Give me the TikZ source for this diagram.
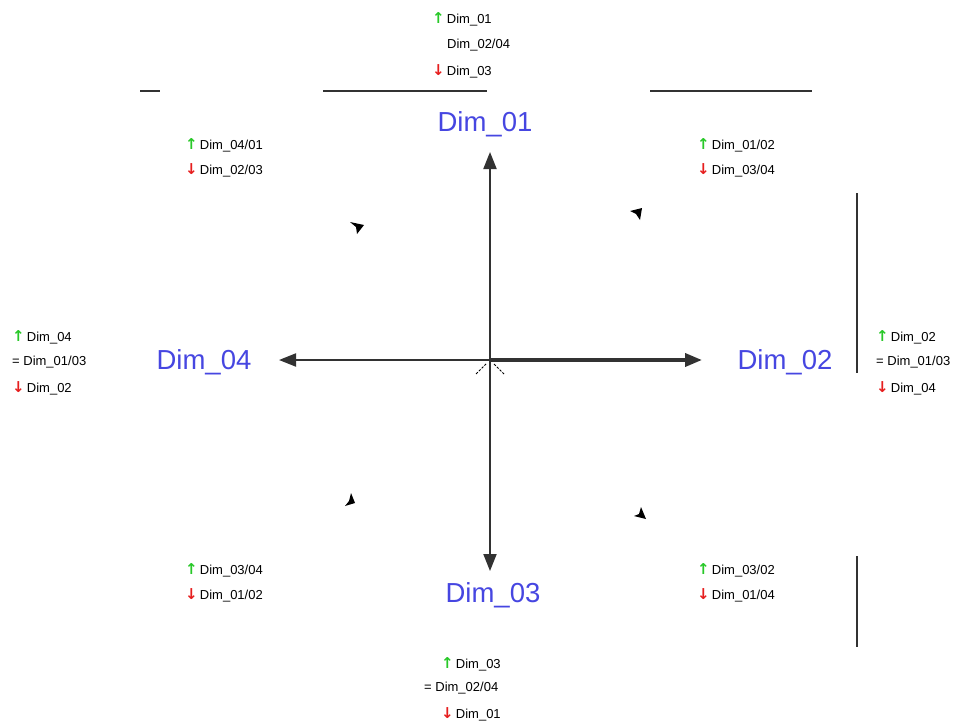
\documentclass[tikz,border=0pt]{standalone}
\usepackage{fontspec}
\setmainfont{Liberation Sans}
\newfontfamily\arrfont{DejaVu Sans}
\usetikzlibrary{arrows.meta}
\definecolor{dimblue}{RGB}{70,70,225}
\definecolor{upgreen}{RGB}{40,200,40}
\definecolor{downred}{RGB}{230,30,30}
\definecolor{axisgray}{RGB}{50,50,50}
\newcommand{\upa}{{\arrfont\bfseries\fontsize{15}{15}\selectfont\color{upgreen}↑}}
\newcommand{\dna}{{\arrfont\bfseries\fontsize{15}{15}\selectfont\color{downred}↓}}
\tikzset{
  dimlabel/.style={text=dimblue, font=\fontsize{27.5}{30}\selectfont, inner sep=0pt},
  small/.style={anchor=west, font=\fontsize{13}{15}\selectfont, inner sep=0pt},
  axis/.style={draw=axisgray, line width=2pt, -{Triangle[length=17pt,width=13pt]}},
  rule/.style={draw=axisgray, line width=1.6pt},
  tipmark/.style={fill=black}
}
\begin{document}
\begin{tikzpicture}[x=1pt,y=-1pt]
\useasboundingbox (0,0) rectangle (972,723);
% center and tips
\coordinate (c) at (490,360);
\coordinate (tN) at (490,152);
\coordinate (tS) at (490,571);
\coordinate (tW) at (279,360);
\coordinate (tE) at (702,360);
\draw[axis] (c) -- (tN);
\draw[axis] (c) -- (tS);
\draw[axis] (c) -- (tW);
\draw[axis, line width=3.6pt] (c) -- (tE);
% small mark at center
\coordinate (m1) at (476,374);
\coordinate (m2) at (486,364);
\coordinate (m3) at (494,364);
\coordinate (m4) at (504,374);
\draw[line width=0.9pt, dash pattern=on 2.5pt off 1.5pt] (m1) -- (m2);
\draw[line width=0.9pt, dash pattern=on 2.5pt off 1.5pt] (m3) -- (m4);
% dimension labels
\node[dimlabel] (d1) at (485,124) {Dim\_01};
\node[dimlabel] (d2) at (785,362) {Dim\_02};
\node[dimlabel] (d3) at (493,595) {Dim\_03};
\node[dimlabel] (d4) at (204,362) {Dim\_04};
% horizontal rules
\coordinate (h1a) at (140,91); \coordinate (h1b) at (160,91);
\coordinate (h2a) at (323,91); \coordinate (h2b) at (487,91);
\coordinate (h3a) at (650,91); \coordinate (h3b) at (812,91);
\draw[rule] (h1a) -- (h1b);
\draw[rule] (h2a) -- (h2b);
\draw[rule] (h3a) -- (h3b);
% vertical rules
\coordinate (v1a) at (857,193); \coordinate (v1b) at (857,373);
\coordinate (v2a) at (857,556); \coordinate (v2b) at (857,647);
\draw[rule] (v1a) -- (v1b);
\draw[rule] (v2a) -- (v2b);
% small arrowheads
\fill[tipmark] (350,222) -- (364,225) -- (357,234) -- (356,227) -- cycle;
\fill[tipmark] (630,211) -- (642,208) -- (640,220) -- (636,214) -- cycle;
\fill[tipmark] (345,506) -- (355,503) -- (351,493) -- (349,501) -- cycle;
\fill[tipmark] (634,516) -- (646,519) -- (641,507) -- (639,514) -- cycle;
% top labels
\node[small] (n1) at (432,19) {\upa\,Dim\_01};
\node[small] (n2) at (447,45) {Dim\_02/04};
\node[small] (n3) at (432,71) {\dna\,Dim\_03};
% top-left
\node[small] (tl1) at (185,145) {\upa\,Dim\_04/01};
\node[small] (tl2) at (185,170) {\dna\,Dim\_02/03};
% top-right
\node[small] (tr1) at (697,145) {\upa\,Dim\_01/02};
\node[small] (tr2) at (697,170) {\dna\,Dim\_03/04};
% left
\node[small] (l1) at (12,337) {\upa\,Dim\_04};
\node[small] (l2) at (12,362) {= Dim\_01/03};
\node[small] (l3) at (12,388) {\dna\,Dim\_02};
% right
\node[small] (r1) at (876,337) {\upa\,Dim\_02};
\node[small] (r2) at (876,362) {= Dim\_01/03};
\node[small] (r3) at (876,388) {\dna\,Dim\_04};
% bottom-left
\node[small] (bl1) at (185,570) {\upa\,Dim\_03/04};
\node[small] (bl2) at (185,595) {\dna\,Dim\_01/02};
% bottom-right
\node[small] (br1) at (697,570) {\upa\,Dim\_03/02};
\node[small] (br2) at (697,595) {\dna\,Dim\_01/04};
% bottom
\node[small] (b1) at (441,664) {\upa\,Dim\_03};
\node[small] (b2) at (424,688) {= Dim\_02/04};
\node[small] (b3) at (441,714) {\dna\,Dim\_01};
\end{tikzpicture}
\end{document}
